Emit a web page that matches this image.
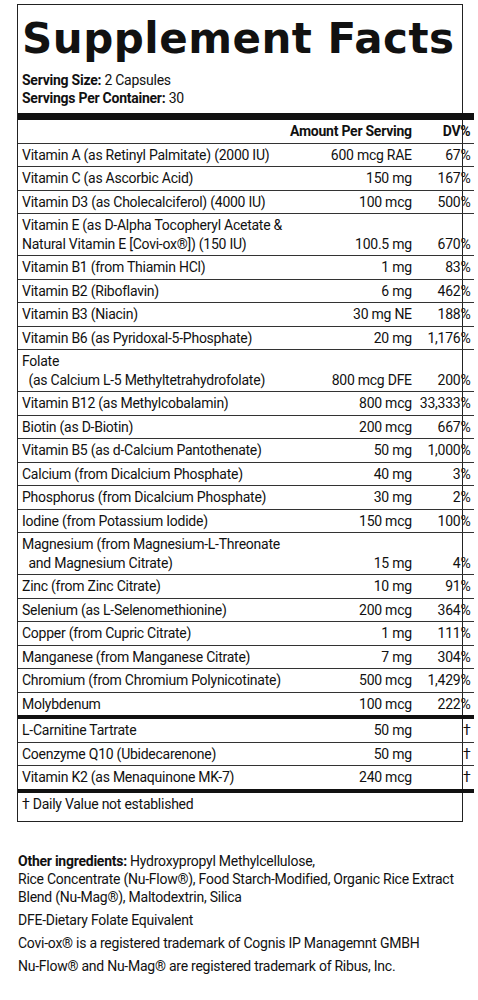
<!DOCTYPE html>
<html><head><meta charset="utf-8">
<script src="https://cdn.jsdelivr.net/npm/chart.js@4/dist/chart.umd.min.js"></script>
<style>
body{margin:0;background:#fff;font-family:Roboto,sans-serif;color:#111;letter-spacing:-0.25px;}
#box{position:absolute;left:17px;top:4px;width:444px;border:1.5px solid #222;}
h1{margin:0;font-family:"DejaVu Sans",sans-serif;font-weight:900;font-size:42px;letter-spacing:0.5px;padding:2px 0 0 4px;line-height:64px;}
.ss{font-size:14px;line-height:18px;padding-left:4px;}
table{border-collapse:collapse;width:100%;font-size:14px;margin-top:6px;}
td{padding:2px 4px;line-height:18.5px;border-top:1px solid #333;vertical-align:bottom;white-space:nowrap;}
td.a{text-align:right;}
td.d{text-align:right;width:62px;}
tr.hd td{border-top:7px solid #111;font-weight:bold;}
tr.thick td{border-top:4px solid #111;}
tr.last td{padding-bottom:8px;}
#foot{position:absolute;left:18px;top:852px;width:458px;font-size:14px;line-height:18px;}
#foot p{margin:0 0 5px 0;}
</style></head><body>
<div id="box">
<h1>Supplement Facts</h1>
<div class="ss"><b>Serving Size:</b> 2 Capsules</div>
<div class="ss"><b>Servings Per Container:</b> 30</div>
<table id="t"></table>
</div>
<div id="foot">
<p><b>Other ingredients:</b> Hydroxypropyl Methylcellulose,<br>Rice Concentrate (Nu-Flow®), Food Starch-Modified, Organic Rice Extract<br>Blend (Nu-Mag®), Maltodextrin, Silica</p>
<p>DFE-Dietary Folate Equivalent</p>
<p>Covi-ox® is a registered trademark of Cognis IP Managemnt GMBH</p>
<p>Nu-Flow® and Nu-Mag® are registered trademark of Ribus, Inc.</p>
</div>
<script>
var nutrients = ['Vitamin A (as Retinyl Palmitate) (2000 IU)','Vitamin C (as Ascorbic Acid)','Vitamin D3 (as Cholecalciferol) (4000 IU)',
 'Vitamin E (as D-Alpha Tocopheryl Acetate &amp;<br>Natural Vitamin E [Covi-ox®]) (150 IU)','Vitamin B1 (from Thiamin HCl)','Vitamin B2 (Riboflavin)',
 'Vitamin B3 (Niacin)','Vitamin B6 (as  Pyridoxal-5-Phosphate)','Folate<br>&nbsp;&nbsp;(as Calcium L-5 Methyltetrahydrofolate)',
 'Vitamin B12 (as Methylcobalamin)','Biotin (as D-Biotin)','Vitamin B5 (as d-Calcium Pantothenate)','Calcium (from Dicalcium Phosphate)',
 'Phosphorus (from Dicalcium Phosphate)','Iodine (from Potassium Iodide)','Magnesium (from Magnesium-L-Threonate<br>&nbsp;&nbsp;and Magnesium Citrate)',
 'Zinc (from Zinc Citrate)','Selenium (as L-Selenomethionine)','Copper (from Cupric Citrate)','Manganese (from Manganese Citrate)',
 'Chromium (from Chromium Polynicotinate)','Molybdenum','L-Carnitine Tartrate','Coenzyme Q10 (Ubidecarenone)','Vitamin K2 (as Menaquinone MK-7)'];
var amounts = ['600 mcg RAE','150 mg','100 mcg','100.5 mg','1 mg','6 mg','30 mg NE','20 mg','800 mcg DFE','800 mcg','200 mcg','50 mg',
 '40 mg','30 mg','150 mcg','15 mg','10 mg','200 mcg','1 mg','7 mg','500 mcg','100 mcg','50 mg','50 mg','240 mcg'];
var dvs = ['67%','167%','500%','670%','83%','462%','188%','1,176%','200%','33,333%','667%','1,000%','3%','2%','100%','4%','91%','364%',
 '111%','304%','1,429%','222%','†','†','†'];
var groupStarts = [22];

var h = '<tr class="hd"><td></td><td class="a">Amount Per Serving</td><td class="d">DV%</td></tr>';
nutrients.forEach(function(n, i) {
    h += '<tr' + (groupStarts.indexOf(i) >= 0 ? ' class="thick"' : '') + '><td>' + n + '</td><td class="a">' + amounts[i] + '</td><td class="d">' + dvs[i] + '</td></tr>';
});
h += '<tr class="thick last"><td colspan="3">† Daily Value not established</td></tr>';
document.getElementById('t').innerHTML = h;
</script>
</body></html>
